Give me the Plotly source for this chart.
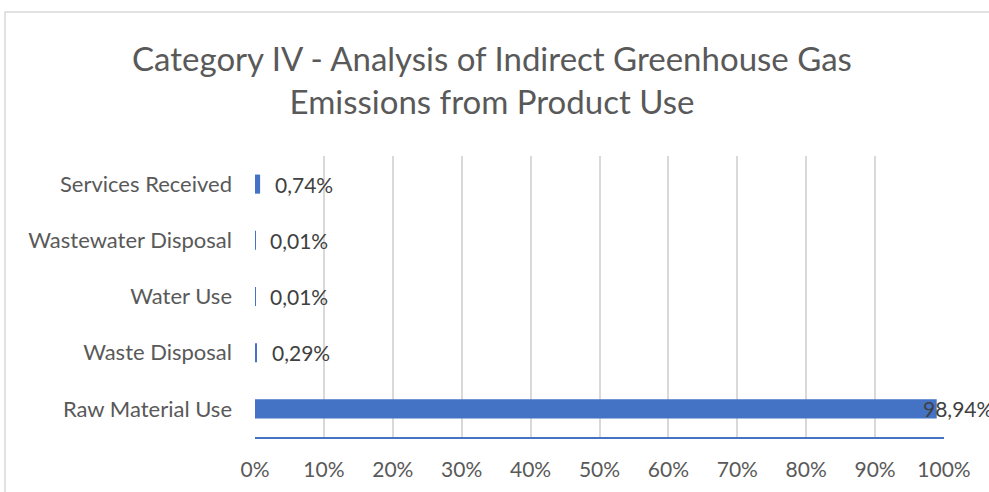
import plotly.graph_objects as go

categories = ["Raw Material Use", "Waste Disposal", "Water Use", "Wastewater Disposal", "Services Received"]
values = [98.94, 0.29, 0.01, 0.01, 0.74]
labels = ["98,94%", "0,29%", "0,01%", "0,01%", "0,74%"]
x_ticks = [0, 10, 20, 30, 40, 50, 60, 70, 80, 90, 100]
x_tick_text = [f"{t}%" for t in x_ticks]

FONT = "Lato"
BLUE = "#4472C4"

fig = go.Figure()
fig.add_trace(go.Bar(
    y=categories, x=values, orientation="h",
    marker=dict(color=BLUE, line=dict(width=0)),
    hoverinfo="skip",
))

annotations = []
for c, v, lab in zip(categories, values, labels):
    near_end = v > 90
    annotations.append(dict(
        x=v, y=c, xref="x", yref="y", text=lab, showarrow=False,
        xanchor="left", xshift=-16 if near_end else 13,
        font=dict(family=FONT, size=21, color="#404040"),
    ))

L, R, T, B = 255, 944, 156, 437
W, H = 989, 492
def px(x):
    return (x - L) / (R - L)
def py(y):
    return (B - y) / (B - T)

fig.update_layout(
    width=W, height=H,
    margin=dict(l=L, r=W - R, t=T, b=H - B, autoexpand=False),
    paper_bgcolor="white", plot_bgcolor="white",
    bargap=0.66,
    showlegend=False,
    title=dict(
        text="Category IV - Analysis of Indirect Greenhouse Gas<br>Emissions from Product Use",
        x=(133 + 851) / 2 / W, xanchor="center",
        y=1 - 71 / H, yanchor="middle",
        font=dict(family=FONT, size=33, color="#595959"),
    ),
    xaxis=dict(
        range=[0, 100], tickvals=x_ticks, ticktext=x_tick_text,
        showgrid=True, gridcolor="#D9D9D9", gridwidth=1.5,
        zeroline=False, showline=True, linecolor=BLUE, linewidth=2,
        ticks="", ticklabelstandoff=13, automargin=False,
        tickfont=dict(family=FONT, size=21, color="#595959"),
        fixedrange=True,
    ),
    yaxis=dict(
        showgrid=False, zeroline=False, showline=False, ticks="",
        ticklabelstandoff=22, automargin=False,
        tickfont=dict(family=FONT, size=22, color="#595959"),
        fixedrange=True,
    ),
    annotations=annotations,
    shapes=[dict(
        type="rect", xref="paper", yref="paper",
        x0=px(5), x1=px(1010), y0=py(510), y1=py(12),
        line=dict(color="#D9D9D9", width=1.5), fillcolor="rgba(0,0,0,0)",
        layer="below",
    )],
)

fig.write_html(
    "out.html",
    config={"displayModeBar": False},
    post_script="document.body.style.margin='0';document.body.style.overflow='hidden';",
)
